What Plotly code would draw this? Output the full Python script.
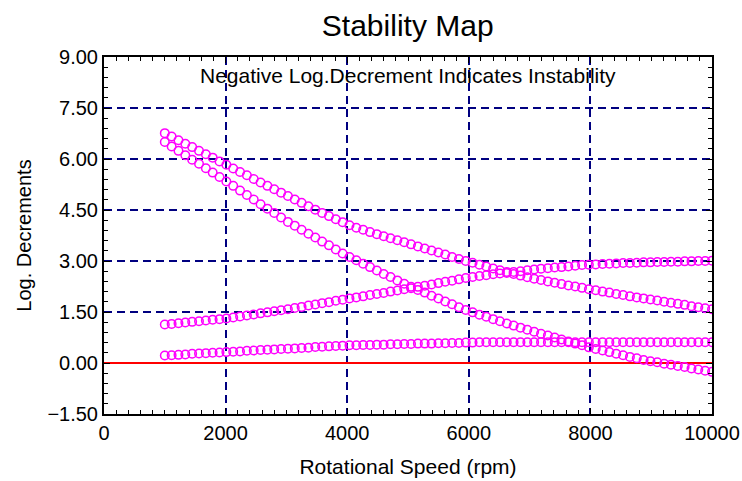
import plotly.graph_objects as go

speeds = [1000, 1112.5, 1225, 1337.5, 1450, 1562.5, 1675, 1787.5, 1900, 2012.5,
          2125, 2237.5, 2350, 2462.5, 2575, 2687.5, 2800, 2912.5, 3025, 3137.5,
          3250, 3362.5, 3475, 3587.5, 3700, 3812.5, 3925, 4037.5, 4150, 4262.5,
          4375, 4487.5, 4600, 4712.5, 4825, 4937.5, 5050, 5162.5, 5275, 5387.5,
          5500, 5612.5, 5725, 5837.5, 5950, 6062.5, 6175, 6287.5, 6400, 6512.5,
          6625, 6737.5, 6850, 6962.5, 7075, 7187.5, 7300, 7412.5, 7525, 7637.5,
          7750, 7862.5, 7975, 8087.5, 8200, 8312.5, 8425, 8537.5, 8650, 8762.5,
          8875, 8987.5, 9100, 9212.5, 9325, 9437.5, 9550, 9662.5, 9775, 9887.5,
          10000]

mode_a = [6.76, 6.66, 6.55, 6.45, 6.35, 6.24, 6.14, 6.04, 5.93, 5.83,
          5.72, 5.62, 5.52, 5.41, 5.31, 5.21, 5.11, 5.01, 4.91, 4.81,
          4.71, 4.61, 4.51, 4.41, 4.32, 4.23, 4.14, 4.05, 3.98, 3.92,
          3.85, 3.79, 3.73, 3.67, 3.61, 3.55, 3.49, 3.43, 3.37, 3.31,
          3.25, 3.19, 3.12, 3.06, 3.00, 2.95, 2.89, 2.84, 2.78, 2.73,
          2.68, 2.62, 2.57, 2.52, 2.48, 2.44, 2.40, 2.36, 2.32, 2.28,
          2.25, 2.21, 2.17, 2.14, 2.10, 2.07, 2.03, 2.00, 1.96, 1.93,
          1.90, 1.87, 1.84, 1.80, 1.77, 1.74, 1.71, 1.67, 1.64, 1.61,
          1.58]

mode_b = [6.50, 6.37, 6.24, 6.11, 5.98, 5.86, 5.73, 5.60, 5.47, 5.34,
          5.21, 5.07, 4.94, 4.81, 4.67, 4.54, 4.41, 4.28, 4.15, 4.04,
          3.92, 3.80, 3.69, 3.57, 3.46, 3.34, 3.22, 3.12, 3.02, 2.92,
          2.82, 2.72, 2.62, 2.53, 2.43, 2.33, 2.24, 2.15, 2.07, 1.98,
          1.90, 1.81, 1.73, 1.64, 1.56, 1.49, 1.42, 1.36, 1.29, 1.23,
          1.16, 1.10, 1.04, 0.98, 0.92, 0.86, 0.81, 0.75, 0.69, 0.63,
          0.57, 0.52, 0.46, 0.41, 0.37, 0.32, 0.27, 0.23, 0.18, 0.14,
          0.09, 0.05, 0.02, -0.02, -0.05, -0.09, -0.12, -0.16, -0.19, -0.23,
          -0.26]

mode_c = [1.13, 1.15, 1.17, 1.19, 1.21, 1.23, 1.25, 1.27, 1.29, 1.31,
          1.34, 1.37, 1.40, 1.43, 1.46, 1.49, 1.52, 1.55, 1.58, 1.62,
          1.65, 1.69, 1.72, 1.76, 1.79, 1.83, 1.86, 1.90, 1.93, 1.96,
          2.00, 2.03, 2.06, 2.10, 2.13, 2.17, 2.20, 2.24, 2.27, 2.31,
          2.35, 2.39, 2.42, 2.46, 2.50, 2.53, 2.56, 2.58, 2.61, 2.63,
          2.65, 2.68, 2.70, 2.73, 2.75, 2.77, 2.79, 2.81, 2.82, 2.84,
          2.86, 2.88, 2.89, 2.90, 2.91, 2.92, 2.93, 2.94, 2.94, 2.95,
          2.96, 2.96, 2.97, 2.97, 2.98, 2.98, 2.99, 2.99, 3.00, 3.00,
          3.01]

mode_d = [0.22, 0.23, 0.24, 0.25, 0.27, 0.28, 0.29, 0.30, 0.31, 0.32,
          0.33, 0.34, 0.36, 0.37, 0.38, 0.39, 0.40, 0.41, 0.42, 0.43,
          0.44, 0.45, 0.47, 0.48, 0.49, 0.50, 0.51, 0.52, 0.52, 0.53,
          0.53, 0.54, 0.54, 0.55, 0.55, 0.56, 0.56, 0.57, 0.57, 0.57,
          0.58, 0.58, 0.59, 0.59, 0.60, 0.60, 0.61, 0.61, 0.61, 0.61,
          0.61, 0.61, 0.61, 0.61, 0.61, 0.61, 0.61, 0.61, 0.61, 0.61,
          0.61, 0.61, 0.61, 0.61, 0.61, 0.61, 0.61, 0.61, 0.61, 0.61,
          0.61, 0.61, 0.61, 0.61, 0.61, 0.61, 0.61, 0.61, 0.61, 0.61,
          0.61]

series = [mode_a, mode_b, mode_c, mode_d]

x_ticks = [0, 2000, 4000, 6000, 8000, 10000]
y_ticks = [-1.5, 0.0, 1.5, 3.0, 4.5, 6.0, 7.5, 9.0]

FONT = "Liberation Sans, Arial, sans-serif"
GRID = "#000080"

fig = go.Figure()
for vals in series:
    fig.add_trace(go.Scatter(
        x=speeds, y=vals, mode="markers",
        marker=dict(symbol="circle-open", size=8.5, color="#ff00ff",
                    line=dict(width=1.5, color="#ff00ff")),
        showlegend=False, hoverinfo="skip"))

fig.update_layout(
    width=742, height=481,
    margin=dict(l=104, r=30, t=57, b=67, autoexpand=False),
    paper_bgcolor="white", plot_bgcolor="white",
    font=dict(family=FONT, color="black"),
    title=dict(text="Stability Map", x=0.5495, xanchor="center",
               y=0.948, yanchor="middle", font=dict(size=30, color="black")),
    annotations=[dict(text="Negative Log.Decrement Indicates Instability",
                      xref="paper", yref="paper", x=0.5, y=0.948,
                      xanchor="center", yanchor="middle", showarrow=False,
                      font=dict(size=21, color="black"))],
)

fig.update_xaxes(
    range=[0, 10000], tickvals=x_ticks, tickformat="d", automargin=False,
    ticks="inside", ticklen=6, tickcolor="black",
    showline=True, linecolor="black", linewidth=2, mirror="ticks",
    showgrid=True, gridcolor=GRID, gridwidth=1.6, griddash="8px,5px",
    zeroline=False,
    tickfont=dict(size=20, color="black"),
    minor=dict(dtick=200, ticks="inside", ticklen=4, tickcolor="black", showgrid=False),
    title=dict(text="Rotational Speed (rpm)", font=dict(size=21, color="black"), standoff=16),
)
fig.update_yaxes(
    range=[-1.5, 9.0], tickvals=y_ticks, tickformat=".2f", automargin=False,
    ticks="inside", ticklen=6, tickcolor="black",
    showline=True, linecolor="black", linewidth=2, mirror="ticks",
    showgrid=True, gridcolor=GRID, gridwidth=1.6, griddash="8px,5px",
    zeroline=True, zerolinecolor="red", zerolinewidth=1.6,
    tickfont=dict(size=20, color="black"),
    minor=dict(dtick=0.3, tick0=0, ticks="inside", ticklen=4, tickcolor="black", showgrid=False),
    title=dict(text="Log. Decrements", font=dict(size=20, color="black"), standoff=10),
)

fig.write_html("out.html")
